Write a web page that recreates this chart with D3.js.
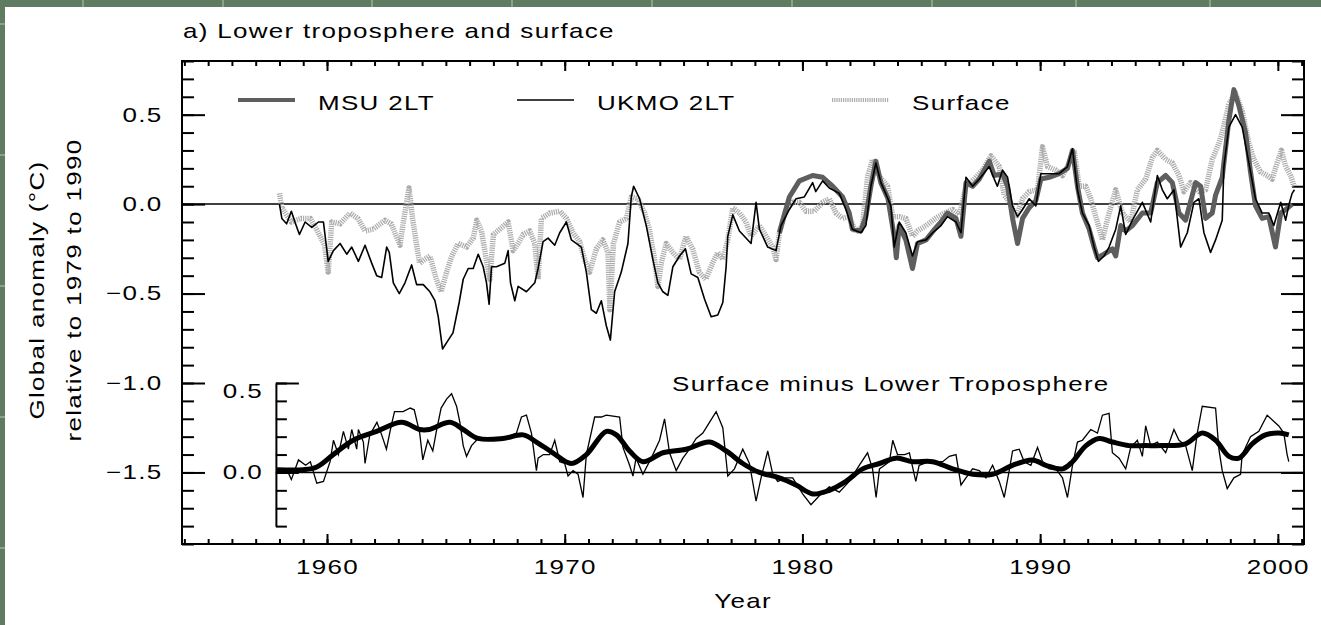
<!DOCTYPE html>
<html>
<head>
<meta charset="utf-8">
<script src="https://cdn.jsdelivr.net/npm/d3@7"></script>
<style>
  html, body { margin: 0; padding: 0; background: #5f7b61; }
  svg { display: block; }
  text { font-family: "Liberation Sans", Arial, sans-serif; fill: #000; }
</style>
</head>
<body>
<div id="chart"></div>
<script>
// Values: [year, anomaly in °C]
const ukmo2lt = [
  [1958.0, 0.00], [1958.1, -0.08], [1958.3, -0.11], [1958.5, -0.04], [1958.65, -0.10], [1958.84, -0.17],
  [1959.08, -0.10], [1959.36, -0.13], [1959.64, -0.10], [1959.85, -0.10], [1960.05, -0.32], [1960.27, -0.26],
  [1960.55, -0.22], [1960.83, -0.28], [1961.04, -0.24], [1961.32, -0.32], [1961.6, -0.23], [1961.88, -0.33],
  [1962.09, -0.40], [1962.3, -0.41], [1962.51, -0.24], [1962.62, -0.27], [1962.79, -0.44], [1963.04, -0.50],
  [1963.28, -0.44], [1963.56, -0.34], [1963.77, -0.45], [1964.05, -0.45], [1964.33, -0.49], [1964.54, -0.54],
  [1964.68, -0.63], [1964.86, -0.81], [1965.1, -0.76], [1965.3, -0.72], [1965.56, -0.55], [1965.73, -0.42],
  [1965.94, -0.36], [1966.15, -0.36], [1966.36, -0.28], [1966.57, -0.35], [1966.71, -0.44], [1966.82, -0.56],
  [1966.92, -0.35], [1967.13, -0.35], [1967.48, -0.33], [1967.62, -0.26], [1967.72, -0.44], [1967.9, -0.54],
  [1968.04, -0.46], [1968.39, -0.49], [1968.74, -0.44], [1968.88, -0.36], [1969.09, -0.21], [1969.3, -0.19],
  [1969.58, -0.23], [1969.79, -0.16], [1970.07, -0.10], [1970.28, -0.20], [1970.7, -0.24], [1970.91, -0.38],
  [1971.12, -0.59], [1971.33, -0.61], [1971.54, -0.54], [1971.75, -0.68], [1971.92, -0.76], [1972.1, -0.49],
  [1972.38, -0.38], [1972.66, -0.22], [1972.8, 0.04], [1972.9, 0.10], [1973.15, 0.03], [1973.43, -0.12],
  [1973.71, -0.31], [1973.92, -0.44], [1974.13, -0.49], [1974.34, -0.51], [1974.55, -0.35], [1974.83, -0.29],
  [1975.08, -0.25], [1975.32, -0.39], [1975.6, -0.41], [1975.88, -0.53], [1976.16, -0.63], [1976.44, -0.62],
  [1976.65, -0.55], [1976.79, -0.35], [1976.86, -0.18], [1977.07, -0.06], [1977.35, -0.15], [1977.84, -0.22],
  [1978.05, 0.01], [1978.19, -0.14], [1978.54, -0.24], [1978.89, -0.26], [1979.1, -0.12], [1979.45, -0.03],
  [1979.73, 0.03], [1980.08, 0.04], [1980.43, 0.12], [1980.56, 0.07], [1980.85, 0.13], [1981.13, 0.09],
  [1981.55, 0.06], [1981.83, -0.03], [1982.1, -0.14], [1982.46, -0.16], [1982.67, -0.12], [1982.88, 0.10],
  [1983.09, 0.23], [1983.3, 0.12], [1983.5, 0.06], [1983.72, -0.01], [1983.86, -0.24], [1984.07, -0.10],
  [1984.35, -0.16], [1984.63, -0.29], [1984.84, -0.21], [1985.2, -0.20], [1985.48, -0.16], [1985.83, -0.12],
  [1986.1, -0.07], [1986.46, -0.10], [1986.67, -0.16], [1986.88, 0.15], [1987.16, 0.10], [1987.44, 0.14],
  [1987.86, 0.21], [1988.07, 0.14], [1988.2, 0.10], [1988.42, 0.19], [1988.63, 0.15], [1988.84, -0.01],
  [1989.05, -0.07], [1989.26, -0.03], [1989.54, 0.03], [1989.82, -0.01], [1990.03, 0.17], [1990.38, 0.17],
  [1990.8, 0.17], [1991.15, 0.21], [1991.36, 0.31], [1991.57, 0.08], [1991.78, -0.05], [1992.06, -0.12],
  [1992.27, -0.24], [1992.45, -0.32], [1992.69, -0.29], [1992.9, -0.24], [1993.18, -0.14], [1993.39, -0.01],
  [1993.6, -0.17], [1993.88, -0.09], [1994.3, 0.01], [1994.65, -0.10], [1994.93, 0.16], [1995.14, 0.08],
  [1995.35, 0.03], [1995.63, 0.08], [1995.91, -0.24], [1996.19, -0.16], [1996.47, 0.01], [1996.68, 0.03],
  [1996.89, -0.16], [1997.17, -0.27], [1997.38, -0.20], [1997.66, -0.09], [1997.73, 0.21], [1997.94, 0.43],
  [1998.22, 0.50], [1998.5, 0.43], [1998.78, 0.23], [1999.06, 0.03], [1999.34, -0.05], [1999.62, -0.05],
  [1999.83, -0.12], [2000.12, 0.01], [2000.33, -0.09], [2000.47, 0.00], [2000.6, 0.06], [2000.7, 0.08]
]

const msu2lt = [
  [1979.03, -0.16], [1979.45, 0.04], [1979.87, 0.13], [1980.43, 0.16], [1980.85, 0.15], [1981.27, 0.10],
  [1981.69, 0.04], [1981.97, -0.05], [1982.1, -0.14], [1982.46, -0.15], [1982.67, -0.07], [1982.88, 0.10],
  [1983.09, 0.24], [1983.3, 0.12], [1983.6, 0.03], [1983.86, -0.18], [1983.95, -0.30], [1984.07, -0.12],
  [1984.35, -0.20], [1984.63, -0.36], [1984.84, -0.22], [1985.2, -0.20], [1985.5, -0.15], [1985.83, -0.10],
  [1986.1, -0.05], [1986.46, -0.08], [1986.67, -0.18], [1986.88, 0.12], [1987.16, 0.10], [1987.44, 0.14],
  [1987.86, 0.24], [1988.07, 0.16], [1988.42, 0.17], [1988.63, 0.10], [1988.84, -0.08], [1989.05, -0.22],
  [1989.26, -0.08], [1989.54, -0.02], [1989.82, 0.02], [1990.03, 0.14], [1990.38, 0.15], [1990.8, 0.17],
  [1991.15, 0.20], [1991.36, 0.30], [1991.57, 0.10], [1991.78, -0.05], [1992.06, -0.14], [1992.27, -0.24],
  [1992.41, -0.30], [1992.69, -0.28], [1993.04, -0.25], [1993.18, -0.29], [1993.39, -0.12], [1993.6, -0.15],
  [1993.88, -0.12], [1994.3, -0.05], [1994.65, -0.05], [1994.93, 0.12], [1995.28, 0.16], [1995.56, 0.12],
  [1995.84, -0.05], [1996.12, -0.09], [1996.54, 0.12], [1996.75, 0.10], [1996.96, -0.08], [1997.24, -0.05],
  [1997.38, 0.05], [1997.66, 0.15], [1997.94, 0.47], [1998.15, 0.64], [1998.36, 0.55], [1998.64, 0.40],
  [1998.85, 0.18], [1999.06, -0.01], [1999.34, -0.08], [1999.62, -0.07], [1999.9, -0.24], [2000.12, -0.05],
  [2000.33, -0.03], [2000.6, 0.00]
]

const surface = [
  [1958.0, 0.06], [1958.1, -0.02], [1958.5, -0.10], [1958.9, -0.08], [1959.3, -0.08], [1959.6, -0.15],
  [1959.9, -0.23], [1960.05, -0.38], [1960.2, -0.10], [1960.55, -0.11], [1960.97, -0.05], [1961.3, -0.08],
  [1961.6, -0.15], [1961.95, -0.14], [1962.44, -0.09], [1962.7, -0.11], [1963.07, -0.23], [1963.2, -0.11],
  [1963.45, 0.09], [1963.6, -0.08], [1963.77, -0.23], [1963.9, -0.33], [1964.1, -0.31], [1964.33, -0.29],
  [1964.6, -0.42], [1964.8, -0.49], [1965.03, -0.38], [1965.25, -0.29], [1965.52, -0.22], [1965.87, -0.24],
  [1966.15, -0.19], [1966.3, -0.09], [1966.5, -0.15], [1966.7, -0.31], [1966.85, -0.42], [1967.0, -0.17],
  [1967.27, -0.14], [1967.62, -0.10], [1967.83, -0.26], [1968.04, -0.22], [1968.25, -0.17], [1968.53, -0.15],
  [1968.74, -0.22], [1968.88, -0.42], [1969.02, -0.08], [1969.37, -0.05], [1969.79, -0.04], [1970.07, -0.08],
  [1970.35, -0.16], [1970.63, -0.21], [1970.84, -0.31], [1971.05, -0.38], [1971.33, -0.25], [1971.6, -0.20],
  [1971.82, -0.27], [1971.9, -0.59], [1972.05, -0.22], [1972.31, -0.10], [1972.6, -0.08], [1972.8, 0.04],
  [1973.08, 0.03], [1973.36, -0.05], [1973.56, -0.14], [1973.78, -0.31], [1973.92, -0.46], [1974.06, -0.33],
  [1974.27, -0.22], [1974.55, -0.27], [1974.83, -0.31], [1975.1, -0.18], [1975.38, -0.25], [1975.66, -0.38],
  [1975.94, -0.42], [1976.22, -0.33], [1976.44, -0.27], [1976.65, -0.31], [1976.86, -0.20], [1977.07, -0.02],
  [1977.35, -0.05], [1977.63, -0.10], [1977.84, -0.18], [1978.19, -0.12], [1978.47, -0.18], [1978.75, -0.24],
  [1978.89, -0.31], [1979.03, -0.16], [1979.31, -0.03], [1979.59, 0.01], [1979.87, 0.01], [1980.15, -0.04],
  [1980.5, -0.04], [1980.85, 0.01], [1981.13, 0.03], [1981.41, -0.05], [1981.69, -0.08], [1981.97, -0.07],
  [1982.25, -0.16], [1982.53, -0.12], [1982.74, 0.15], [1982.95, 0.25], [1983.2, 0.16], [1983.58, 0.10],
  [1983.8, -0.07], [1984.07, -0.07], [1984.35, -0.08], [1984.63, -0.18], [1984.84, -0.15], [1985.2, -0.12],
  [1985.6, -0.08], [1985.97, -0.05], [1986.32, -0.03], [1986.6, -0.06], [1986.88, 0.10], [1987.23, 0.14],
  [1987.58, 0.19], [1987.93, 0.27], [1988.28, 0.21], [1988.49, 0.05], [1988.77, 0.00], [1988.98, -0.08],
  [1989.26, 0.03], [1989.54, 0.07], [1989.89, 0.08], [1990.1, 0.32], [1990.31, 0.21], [1990.66, 0.19],
  [1990.94, 0.16], [1991.15, 0.21], [1991.43, 0.30], [1991.64, 0.10], [1991.92, 0.10], [1992.13, 0.03],
  [1992.34, -0.07], [1992.62, -0.20], [1992.9, -0.05], [1993.18, 0.08], [1993.46, -0.05], [1993.81, -0.10],
  [1994.09, 0.08], [1994.44, 0.14], [1994.72, 0.26], [1994.93, 0.30], [1995.28, 0.25], [1995.56, 0.23],
  [1995.84, 0.16], [1996.05, 0.07], [1996.33, 0.12], [1996.68, 0.07], [1996.96, 0.08], [1997.24, 0.25],
  [1997.52, 0.34], [1997.66, 0.40], [1997.94, 0.56], [1998.22, 0.62], [1998.5, 0.52], [1998.78, 0.34],
  [1998.99, 0.25], [1999.27, 0.18], [1999.55, 0.16], [1999.76, 0.14], [1999.97, 0.23], [2000.15, 0.30],
  [2000.33, 0.21], [2000.54, 0.16], [2000.68, 0.10]
]

// Surface minus lower troposphere (inset)
const diffRaw = [
  [1957.9, 0.02], [1958.3, 0.02], [1958.5, -0.04], [1958.8, 0.07], [1959.1, 0.04], [1959.3, 0.06],
  [1959.57, -0.06], [1959.85, -0.05], [1960.13, 0.06], [1960.27, 0.18], [1960.48, 0.10], [1960.69, 0.23],
  [1960.9, 0.13], [1961.04, 0.24], [1961.25, 0.13], [1961.32, 0.24], [1961.53, 0.17], [1961.6, 0.05],
  [1961.8, 0.21], [1962.1, 0.28], [1962.3, 0.21], [1962.5, 0.13], [1962.7, 0.26], [1962.84, 0.34],
  [1963.2, 0.34], [1963.5, 0.36], [1963.67, 0.35], [1963.9, 0.22], [1964.03, 0.07], [1964.24, 0.18],
  [1964.45, 0.12], [1964.6, 0.23], [1964.8, 0.36], [1965.03, 0.41], [1965.24, 0.44], [1965.45, 0.37],
  [1965.59, 0.28], [1965.73, 0.15], [1965.87, 0.09], [1966.08, 0.15], [1966.36, 0.19], [1966.71, 0.18],
  [1967.4, 0.19], [1967.97, 0.22], [1968.18, 0.31], [1968.39, 0.32], [1968.6, 0.22], [1968.81, 0.01],
  [1968.88, 0.08], [1969.1, 0.10], [1969.37, 0.10], [1969.58, 0.18], [1969.79, 0.06], [1970.0, 0.05],
  [1970.14, -0.02], [1970.35, 0.01], [1970.56, -0.01], [1970.77, -0.14], [1970.91, 0.10], [1971.26, 0.31],
  [1971.54, 0.31], [1971.75, 0.32], [1972.31, 0.31], [1972.45, 0.14], [1972.73, 0.04], [1972.87, -0.02],
  [1973.0, 0.08], [1973.29, -0.01], [1973.64, 0.08], [1973.99, 0.18], [1974.2, 0.30], [1974.41, 0.11],
  [1974.69, 0.01], [1974.97, 0.08], [1975.25, 0.13], [1975.53, 0.19], [1975.81, 0.22], [1976.09, 0.28],
  [1976.37, 0.34], [1976.65, 0.25], [1976.86, -0.02], [1977.14, 0.02], [1977.49, 0.13], [1977.77, 0.05],
  [1978.05, -0.16], [1978.26, -0.03], [1978.54, 0.12], [1978.75, -0.01], [1978.96, -0.05], [1979.31, -0.03],
  [1979.59, -0.03], [1980.01, -0.12], [1980.36, -0.18], [1980.71, -0.13], [1981.13, -0.08], [1981.55, -0.11],
  [1981.97, -0.05], [1982.39, 0.04], [1982.74, 0.11], [1982.95, 0.02], [1983.1, -0.14], [1983.24, 0.02],
  [1983.66, 0.06], [1983.8, 0.18], [1984.0, 0.10], [1984.3, 0.10], [1984.5, 0.11], [1984.77, -0.05],
  [1984.91, 0.04], [1985.33, 0.06], [1985.9, 0.06], [1986.18, 0.09], [1986.46, 0.10], [1986.67, -0.07],
  [1986.88, -0.03], [1987.16, 0.02], [1987.44, 0.01], [1987.72, -0.03], [1988.0, 0.04], [1988.28, -0.05],
  [1988.49, -0.14], [1988.7, 0.01], [1988.84, 0.12], [1989.12, 0.13], [1989.33, 0.06], [1989.61, 0.04],
  [1989.89, 0.14], [1990.1, 0.06], [1990.38, 0.02], [1990.66, 0.02], [1990.94, -0.03], [1991.15, -0.14],
  [1991.36, 0.04], [1991.57, 0.17], [1991.78, 0.18], [1992.13, 0.24], [1992.41, 0.22], [1992.62, 0.32],
  [1992.9, 0.33], [1993.04, 0.11], [1993.32, 0.08], [1993.6, 0.02], [1993.81, 0.14], [1994.09, 0.18],
  [1994.3, 0.09], [1994.44, 0.26], [1994.65, 0.15], [1994.93, 0.17], [1995.28, 0.11], [1995.63, 0.24],
  [1995.84, 0.18], [1996.12, 0.15], [1996.4, 0.01], [1996.61, 0.22], [1996.82, 0.37], [1997.38, 0.36],
  [1997.52, 0.13], [1997.66, 0.01], [1997.87, -0.09], [1998.15, -0.03], [1998.43, -0.01], [1998.5, 0.10],
  [1998.85, 0.20], [1999.2, 0.23], [1999.55, 0.32], [2000.04, 0.26], [2000.25, 0.22], [2000.39, 0.10],
  [2000.46, 0.06]
]

const diffSmooth = [
  [1957.9, 0.015], [1959.0, 0.015], [1959.57, 0.03], [1960.27, 0.10], [1961.1, 0.18], [1962.09, 0.23],
  [1963.14, 0.28], [1963.9, 0.24], [1964.3, 0.24], [1965.17, 0.28], [1965.73, 0.24], [1966.36, 0.19],
  [1967.4, 0.19], [1968.25, 0.21], [1968.81, 0.17], [1969.5, 0.11], [1970.28, 0.05], [1970.91, 0.10],
  [1971.75, 0.23], [1972.17, 0.21], [1972.73, 0.12], [1973.29, 0.06], [1974.13, 0.11], [1975.11, 0.13],
  [1976.09, 0.17], [1976.79, 0.12], [1977.49, 0.05], [1978.19, 0.00], [1979.03, -0.03], [1979.73, -0.07],
  [1980.43, -0.12], [1981.13, -0.10], [1981.83, -0.05], [1982.53, 0.02], [1983.24, 0.05], [1983.94, 0.08],
  [1984.63, 0.06], [1985.48, 0.06], [1986.32, 0.02], [1987.16, -0.01], [1988.0, -0.01], [1988.84, 0.04],
  [1989.68, 0.07], [1990.24, 0.04], [1990.94, 0.02], [1991.36, 0.06], [1991.93, 0.15], [1992.48, 0.19],
  [1993.04, 0.17], [1993.74, 0.15], [1994.44, 0.15], [1995.14, 0.15], [1996.12, 0.16], [1996.82, 0.22],
  [1997.38, 0.18], [1997.94, 0.09], [1998.36, 0.08], [1998.92, 0.16], [1999.48, 0.21], [2000.04, 0.22],
  [2000.46, 0.21]
]

const yearTicks = [1960, 1970, 1980, 1990, 2000]
const anomalyTicks = [0.5, 0.0, -0.5, -1.0, -1.5]
const insetTicks = [0.5, 0.0]
const legendNames = ['MSU 2LT', 'UKMO 2LT', 'Surface']

const createChart = (svgId) => {
  // Const variables
  const width = 1321
  const height = 625
  const box = { left: 182, right: 1304, top: 61, bottom: 544 }
  const stretch = 'scale(1.3,1)'
  const fontSize = 20

  // Scales
  const x = d3.scaleLinear().domain([1953.9, 2001.1]).range([box.left, box.right])
  const y = d3.scaleLinear().domain([-1.9, 0.8]).range([box.bottom, box.top])
  // inset shares the main scale, zero sits on -1.5
  const yIn = d3.scaleLinear().domain([-0.3, 0.5]).range([y(-1.8), y(-1.0)])
  const insetX = x(1957.85)

  const minorYears = d3.range(1954, 2002)
  const minorAnomaly = d3.range(-19, 9).map(d => d / 10)
  const minorInset = d3.range(-3, 6).map(d => d / 10)
  const fmt = d3.format('.1f')

  d3.select(svgId).selectAll('*').remove()

  const svg = d3.select(svgId)
    .append('svg')
      .attr('width', width)
      .attr('height', height)

  // Green slide background with its faint grid
  svg.append('rect')
      .attr('width', width)
      .attr('height', height)
      .attr('fill', '#5f7b61')
  const bgGrid = svg.append('g')
      .attr('stroke', '#86a488')
      .attr('stroke-width', 2)
  ;[83, 223, 372, 512, 652, 792, 932, 1076, 1210].forEach(gx => {
    bgGrid.append('line').attr('x1', gx).attr('x2', gx).attr('y1', 0).attr('y2', 8)
  })
  ;[24, 155, 286, 417, 548].forEach(gy => {
    bgGrid.append('line').attr('x1', 0).attr('x2', 6).attr('y1', gy).attr('y2', gy)
  })
  svg.append('rect')
      .attr('x', 5)
      .attr('y', 7)
      .attr('width', width - 5)
      .attr('height', height - 7)
      .attr('fill', '#fff')

  const stretchText = sel => sel
      .attr('transform', function () {
        const prev = d3.select(this).attr('transform')
        return (prev ? prev + ' ' : '') + stretch
      })
      .style('letter-spacing', '1px')

  const addText = (g, tx, ty, str, anchor = 'start', rotate = 0) => g.append('text')
      .attr('transform', `translate(${tx},${ty}) rotate(${rotate}) ${stretch}`)
      .attr('text-anchor', anchor)
      .attr('font-size', fontSize)
      .style('letter-spacing', '1px')
      .text(str)

  // Title
  addText(svg, box.left + 1, 38, 'a) Lower troposphere and surface')

  // Axes: minor ticks
  const tickStyle = g => {
    g.select('.domain').remove()
    g.selectAll('.tick line').attr('stroke', '#000').attr('stroke-width', 2)
  }
  svg.append('g')
      .attr('transform', `translate(0,${box.bottom})`)
      .call(d3.axisBottom(x).tickValues(minorYears).tickSize(-5).tickFormat(''))
      .call(tickStyle)
  svg.append('g')
      .attr('transform', `translate(0,${box.top})`)
      .call(d3.axisTop(x).tickValues(minorYears).tickSize(-5).tickFormat(''))
      .call(tickStyle)
  svg.append('g')
      .attr('transform', `translate(${box.left},0)`)
      .call(d3.axisLeft(y).tickValues(minorAnomaly).tickSize(-12).tickFormat(''))
      .call(tickStyle)
  svg.append('g')
      .attr('transform', `translate(${box.right},0)`)
      .call(d3.axisRight(y).tickValues(minorAnomaly).tickSize(-12).tickFormat(''))
      .call(tickStyle)

  // Axes: major ticks and labels
  svg.append('g')
      .attr('transform', `translate(0,${box.bottom})`)
      .call(d3.axisBottom(x).tickValues(yearTicks).tickSize(-10).tickPadding(16).tickFormat(d3.format('d')))
      .call(tickStyle)
      .call(g => g.selectAll('text').attr('font-size', fontSize).attr('font-family', null).call(stretchText))
  svg.append('g')
      .attr('transform', `translate(0,${box.top})`)
      .call(d3.axisTop(x).tickValues(yearTicks).tickSize(-10).tickFormat(''))
      .call(tickStyle)
  svg.append('g')
      .attr('transform', `translate(${box.left},0)`)
      .call(d3.axisLeft(y).tickValues(anomalyTicks).tickSize(-23).tickPadding(15).tickFormat(fmt))
      .call(tickStyle)
      .call(g => g.selectAll('text').attr('font-size', fontSize).attr('font-family', null).call(stretchText))
  svg.append('g')
      .attr('transform', `translate(${box.right},0)`)
      .call(d3.axisRight(y).tickValues(anomalyTicks).tickSize(-23).tickFormat(''))
      .call(tickStyle)

  // Frame
  svg.append('rect')
      .attr('x', box.left)
      .attr('y', box.top)
      .attr('width', box.right - box.left)
      .attr('height', box.bottom - box.top)
      .attr('fill', 'none')
      .attr('stroke', '#000')
      .attr('stroke-width', 2)

  // Axis titles
  addText(svg, 44, 290, 'Global anomaly (°C)', 'middle', -90)
  addText(svg, 81, 290, 'relative to 1979 to 1990', 'middle', -90)
  addText(svg, (box.left + box.right) / 2, 608, 'Year', 'middle')

  // Zero line
  svg.append('line')
      .attr('x1', box.left)
      .attr('x2', box.right)
      .attr('y1', y(0))
      .attr('y2', y(0))
      .attr('stroke', '#000')
      .attr('stroke-width', 1.5)

  // Series lines
  const line = d3.line().x(d => x(d[0])).y(d => y(d[1]))
  const seriesStyles = [
    { data: surface, stroke: '#acacac', width: 5.5, dash: '1.2,1' },
    { data: msu2lt, stroke: '#5e5e5e', width: 5, dash: null },
    { data: ukmo2lt, stroke: '#000', width: 1.6, dash: null }
  ]
  seriesStyles.forEach(s => {
    svg.append('path')
        .datum(s.data)
        .attr('d', line)
        .attr('fill', 'none')
        .attr('stroke', s.stroke)
        .attr('stroke-width', s.width)
        .attr('stroke-dasharray', s.dash)
        .attr('stroke-linejoin', 'round')
  })

  // Legend
  const legendStyles = [seriesStyles[1], seriesStyles[2], seriesStyles[0]]
  const legendX = [238, 517, 832]
  legendNames.forEach((name, i) => {
    const s = legendStyles[i]
    svg.append('line')
        .attr('x1', legendX[i])
        .attr('x2', legendX[i] + 57)
        .attr('y1', 100)
        .attr('y2', 100)
        .attr('stroke', s.stroke)
        .attr('stroke-width', Math.min(s.width, 4))
        .attr('stroke-dasharray', s.dash)
    addText(svg, legendX[i] + 80, 110, name)
  })

  // Inset: surface minus lower troposphere
  const inset = svg.append('g')
  inset.append('g')
      .attr('transform', `translate(${insetX},0)`)
      .call(d3.axisLeft(yIn).tickValues(minorInset).tickSize(-11).tickSizeOuter(0).tickFormat(''))
      .call(g => g.select('.domain').attr('stroke', '#000').attr('stroke-width', 2))
      .call(g => g.selectAll('.tick line').attr('stroke', '#000').attr('stroke-width', 2))
  inset.append('g')
      .attr('transform', `translate(${insetX},0)`)
      .call(d3.axisLeft(yIn).tickValues(insetTicks).tickSize(-23).tickPadding(10).tickFormat(fmt))
      .call(tickStyle)
      .call(g => g.selectAll('text').attr('font-size', fontSize).attr('font-family', null).call(stretchText))
      // top label sits a little below its tick in the original
      .call(g => g.selectAll('text').filter(d => d > 0).attr('y', 8))

  inset.append('line')
      .attr('x1', insetX)
      .attr('x2', box.right)
      .attr('y1', yIn(0))
      .attr('y2', yIn(0))
      .attr('stroke', '#000')
      .attr('stroke-width', 1.5)

  addText(inset, 672, 391, 'Surface minus Lower Troposphere')

  const lineIn = d3.line().x(d => x(d[0])).y(d => yIn(d[1]))
  inset.append('path')
      .datum(diffRaw)
      .attr('d', lineIn)
      .attr('fill', 'none')
      .attr('stroke', '#000')
      .attr('stroke-width', 1.3)
  inset.append('path')
      .datum(diffSmooth)
      .attr('d', lineIn.curve(d3.curveCatmullRom))
      .attr('fill', 'none')
      .attr('stroke', '#000')
      .attr('stroke-width', 5)
}

createChart('#chart')
</script>
</body>
</html>
